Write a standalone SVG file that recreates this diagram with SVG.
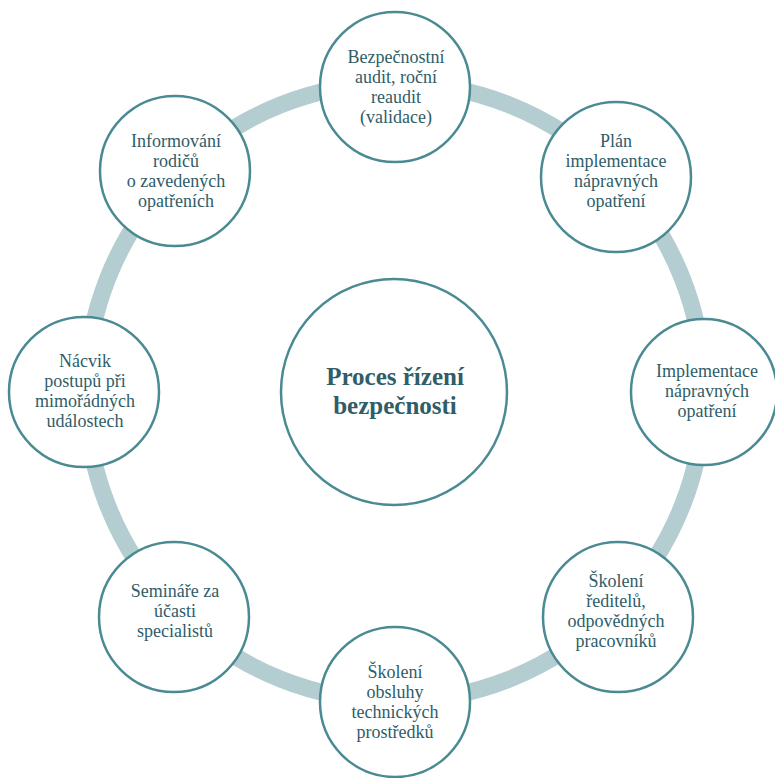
<svg xmlns="http://www.w3.org/2000/svg" width="775" height="778" viewBox="0 0 775 778">
<style>
.node{fill:#ffffff;stroke:#4a8a92;stroke-width:2.5}
.lbl{font-family:"Liberation Serif","Times New Roman",serif;font-size:18px;fill:#2f5d68;text-anchor:middle}
.title{font-family:"Liberation Serif","Times New Roman",serif;font-size:25px;font-weight:bold;fill:#2f5d68;text-anchor:middle}
.ring{fill:none;stroke:#b4cdd1;stroke-width:17}
</style>
<rect width="775" height="778" fill="#ffffff"/>
<g id="connectors">
<circle class="ring" cx="395" cy="392" r="309"/>
</g>
<g id="center">
<circle class="node" cx="394" cy="392" r="113"/>
<text class="title" x="395" y="385">Proces řízení</text>
<text class="title" x="395" y="414">bezpečnosti</text>
</g>
<g id="n1">
<circle class="node" cx="395" cy="87" r="75"/>
<text class="lbl" x="396" y="63">Bezpečnostní</text>
<text class="lbl" x="396" y="83">audit, roční</text>
<text class="lbl" x="396" y="103">reaudit</text>
<text class="lbl" x="396" y="123">(validace)</text>
</g>
<g id="n2">
<circle class="node" cx="616" cy="177" r="75"/>
<text class="lbl" x="616" y="147">Plán</text>
<text class="lbl" x="616" y="167">implementace</text>
<text class="lbl" x="616" y="187">nápravných</text>
<text class="lbl" x="616" y="207">opatření</text>
</g>
<g id="n3">
<circle class="node" cx="704" cy="392" r="73"/>
<text class="lbl" x="707" y="377">Implementace</text>
<text class="lbl" x="707" y="397">nápravných</text>
<text class="lbl" x="707" y="417">opatření</text>
</g>
<g id="n4">
<circle class="node" cx="618" cy="617" r="75"/>
<text class="lbl" x="616" y="587">Školení</text>
<text class="lbl" x="616" y="607">ředitelů,</text>
<text class="lbl" x="616" y="627">odpovědných</text>
<text class="lbl" x="616" y="647">pracovníků</text>
</g>
<g id="n5">
<circle class="node" cx="395" cy="702" r="75"/>
<text class="lbl" x="395" y="678">Školení</text>
<text class="lbl" x="395" y="698">obsluhy</text>
<text class="lbl" x="395" y="718">technických</text>
<text class="lbl" x="395" y="738">prostředků</text>
</g>
<g id="n6">
<circle class="node" cx="174" cy="617" r="75"/>
<text class="lbl" x="175" y="597">Semináře za</text>
<text class="lbl" x="175" y="617">účasti</text>
<text class="lbl" x="175" y="637">specialistů</text>
</g>
<g id="n7">
<circle class="node" cx="84" cy="392" r="75"/>
<text class="lbl" x="85" y="367">Nácvik</text>
<text class="lbl" x="85" y="387">postupů při</text>
<text class="lbl" x="85" y="407">mimořádných</text>
<text class="lbl" x="85" y="427">událostech</text>
</g>
<g id="n8">
<circle class="node" cx="175" cy="171" r="75"/>
<text class="lbl" x="176" y="147">Informování</text>
<text class="lbl" x="176" y="167">rodičů</text>
<text class="lbl" x="176" y="187">o zavedených</text>
<text class="lbl" x="176" y="207">opatřeních</text>
</g>
</svg>
